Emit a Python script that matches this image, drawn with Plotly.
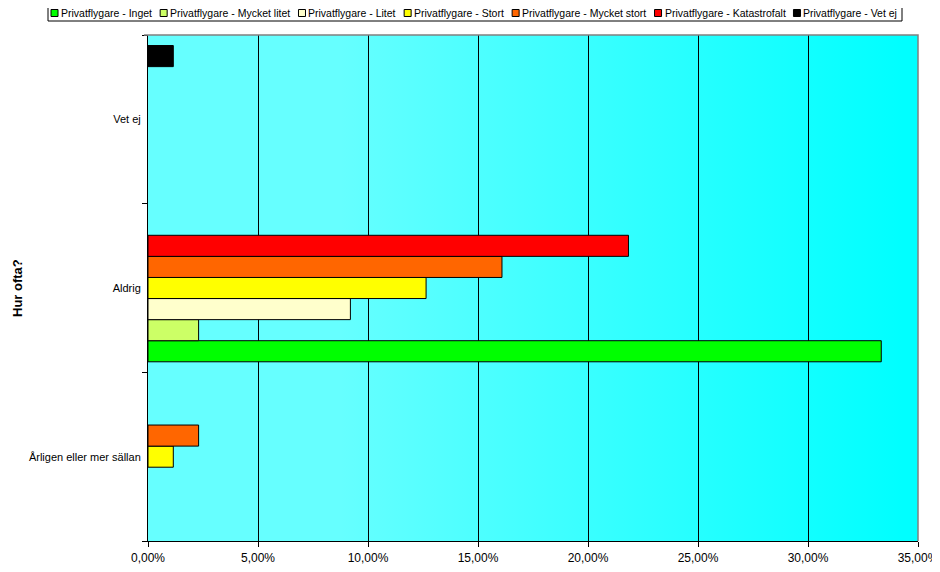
import base64

import plotly.graph_objects as go

# --- data (shares of respondents) ---
categories = ["Årligen eller mer sällan", "Aldrig", "Vet ej"]

series_names = [
    "Privatflygare - Inget",
    "Privatflygare - Mycket litet",
    "Privatflygare - Litet",
    "Privatflygare - Stort",
    "Privatflygare - Mycket stort",
    "Privatflygare - Katastrofalt",
    "Privatflygare - Vet ej",
]
inget = [None, 0.3333, None]
mycket_litet = [None, 0.0230, None]
litet = [None, 0.0920, None]
stort = [0.0115, 0.1264, None]
mycket_stort = [0.0230, 0.1609, None]
katastrofalt = [None, 0.2184, None]
vet_ej = [None, None, 0.0115]

x_ticks = [0, 0.05, 0.10, 0.15, 0.20, 0.25, 0.30, 0.35]

_COLORS = ["#00FF00", "#CCFF66", "#FFFFCC", "#FFFF00", "#FF6600", "#FF0000", "#000000"]
FONT = "Arial, Liberation Sans, sans-serif"

# the page body has an 8px margin, so the figure is shrunk by that amount
PAGE_OFF = 8
W, H = 940 - PAGE_OFF, 572 - PAGE_OFF
# plot area in page pixels: x 148..918, y 35..541
PL, PR, PT, PB = 148, 918, 35, 541
PW, PH = PR - PL, PB - PT

# Arial advance widths (1/1000 em), used to lay out the legend row
_ARIAL = {
    " ": 278, "-": 333, "P": 667, "r": 333, "i": 222, "v": 500, "a": 556, "t": 278,
    "f": 278, "l": 222, "y": 500, "g": 556, "e": 556, "I": 278, "n": 556, "M": 833,
    "c": 500, "k": 500, "L": 556, "S": 667, "o": 556, "K": 667, "s": 500, "V": 667,
    "j": 222,
}


def text_w(s, size):
    return sum(_ARIAL.get(ch, 556) for ch in s) * size / 1000


def px(x):
    return (x - PL) / PW


def py(y):
    return (PB - y) / PH


values = [inget, mycket_litet, litet, stort, mycket_stort, katastrofalt, vet_ej]

fig = go.Figure()
for name, vals, color in zip(series_names, values, _COLORS):
    fig.add_trace(go.Bar(
        name=name, y=categories, x=vals, orientation="h",
        marker=dict(color=color, line=dict(color="#000000", width=1)),
        hovertemplate="%{y}: %{x:.2%}<extra>" + name + "</extra>",
    ))

# plot-area gradient (light cyan -> cyan)
svg = (
    "<svg xmlns='http://www.w3.org/2000/svg' width='770' height='506' preserveAspectRatio='none'>"
    "<defs><linearGradient id='g' x1='0' y1='0' x2='1' y2='0'>"
    "<stop offset='0' stop-color='#66FFFF'/><stop offset='0.25' stop-color='#66FFFF'/>"
    "<stop offset='0.98' stop-color='#00FFFF'/><stop offset='1' stop-color='#00FFFF'/>"
    "</linearGradient></defs><rect width='100%' height='100%' fill='url(#g)'/></svg>"
)
bg_src = "data:image/svg+xml;base64," + base64.b64encode(svg.encode()).decode()

# hand-made single-row legend
LEG_SIZE = 10.5
leg_left, leg_right, leg_mid = 48, 902, 13
sq, sq_gap = 7, 3
widths = [text_w(n, LEG_SIZE) for n in series_names]
start = leg_left + 3
item_gap = (leg_right - 4 - start - len(widths) * (sq + sq_gap) - sum(widths)) / (len(widths) - 1)

shapes = [dict(
    type="rect", xref="paper", yref="paper",
    x0=px(leg_left), x1=px(leg_right), y0=py(21), y1=py(5),
    line=dict(color="#000000", width=1), fillcolor="white",
)]
annotations = []
cur = start
for name, color, w in zip(series_names, _COLORS, widths):
    shapes.append(dict(
        type="rect", xref="paper", yref="paper",
        x0=px(cur), x1=px(cur + sq), y0=py(leg_mid + 3.5), y1=py(leg_mid - 3.5),
        line=dict(color="#000000", width=1), fillcolor=color,
    ))
    annotations.append(dict(
        text=name, xref="paper", yref="paper", x=px(cur + sq + sq_gap - 1), y=py(leg_mid),
        xanchor="left", yanchor="middle", showarrow=False,
        font=dict(family=FONT, size=LEG_SIZE, color="#000000"), borderpad=0,
    ))
    cur += sq + sq_gap + w + item_gap

# gray border on top and right of the plot area
shapes.append(dict(
    type="path", xref="paper", yref="paper",
    path=f"M{px(144)},1 L1,1 L1,0", line=dict(color="#808080", width=1.5),
    layer="above",
))

annotations.append(dict(
    text="<b>Hur ofta?</b>", xref="paper", yref="paper", x=px(17), y=py(288),
    textangle=-90, showarrow=False, xanchor="center", yanchor="middle",
    font=dict(family=FONT, size=13, color="#000000"),
))

fig.update_layout(
    width=W, height=H,
    margin=dict(l=PL - PAGE_OFF, r=W + PAGE_OFF - PR, t=PT - PAGE_OFF, b=H + PAGE_OFF - PB),
    barmode="group", bargap=0.125, bargroupgap=0,
    showlegend=False,
    separators=", ",
    paper_bgcolor="white", plot_bgcolor="rgba(0,0,0,0)",
    font=dict(family=FONT, color="#000000"),
    images=[dict(
        source=bg_src, xref="paper", yref="paper", x=0, y=1,
        sizex=1, sizey=1, xanchor="left", yanchor="top",
        sizing="stretch", layer="below",
    )],
    shapes=shapes,
    annotations=annotations,
    xaxis=dict(
        range=[0, 0.35], tickvals=x_ticks, tickformat=".2%", automargin=False,
        showgrid=True, gridcolor="#000000", gridwidth=1, zeroline=False,
        showline=True, linecolor="#000000", linewidth=1,
        ticks="outside", ticklen=5, tickcolor="#000000",
        tickfont=dict(family=FONT, size=12), ticklabelstandoff=1,
    ),
    yaxis=dict(
        showgrid=False, zeroline=False, automargin=False,
        showline=True, linecolor="#000000", linewidth=1,
        ticks="outside", ticklen=5, tickcolor="#000000", tickson="boundaries",
        tickfont=dict(family=FONT, size=11), ticklabelstandoff=4,
    ),
)

fig.write_html("out.html")
